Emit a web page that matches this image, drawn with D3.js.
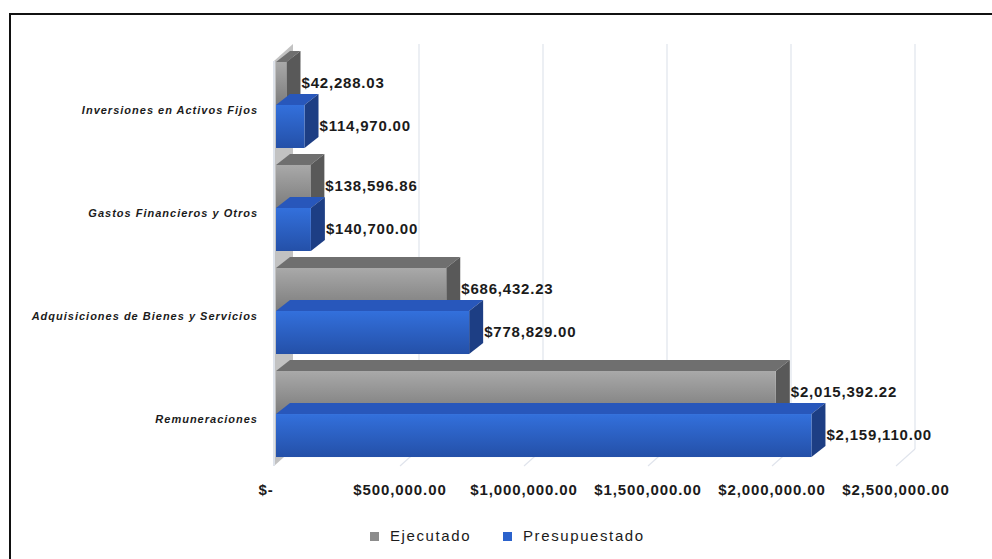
<!DOCTYPE html>
<html>
<head>
<meta charset="utf-8">
<script src="https://cdn.jsdelivr.net/npm/d3@7"></script>
<style>
  body { margin: 0; background: #fff; }
  svg { display: block; }
</style>
</head>
<body>
<svg id="mainSvg" width="992" height="559"></svg>
<script>
// Data
let categories = [
    "Inversiones en Activos Fijos",
    "Gastos Financieros y Otros",
    "Adquisiciones de Bienes y Servicios",
    "Remuneraciones",
];
let seriesNames = ["Ejecutado", "Presupuestado"];
let ejecutado = [42288.03, 138596.86, 686432.23, 2015392.22];
let presupuestado = [114970.0, 140700.0, 778829.0, 2159110.0];
let xTicks = [0, 500000, 1000000, 1500000, 2000000, 2500000];

let seriesValues = { Ejecutado: ejecutado, Presupuestado: presupuestado };

let svg = d3.select("#mainSvg");
let fontFam = "'Liberation Sans', Arial, sans-serif";

// depth offsets for the 3d look
let wallDx = 19, wallDy = 17;
let barDx = 14, barDy = 11;

let x = d3.scaleLinear().domain([0, 2500000]).range([276, 896]);
let y = d3.scaleBand().domain(categories).range([56, 463])
    .paddingInner(0.165).paddingOuter(0.058);
let ySub = d3.scaleBand().domain(seriesNames).range([0, y.bandwidth()]);
let floorY = 466;

let money = (d) => (d === 0 ? "$-" : "$" + d3.format(",.2f")(d));

// gradients
let defs = svg.append("defs");
let addGrad = function (id, c1, c2) {
    let g = defs.append("linearGradient").attr("id", id)
        .attr("x1", 0).attr("y1", 0).attr("x2", 0).attr("y2", 1);
    g.append("stop").attr("offset", "0%").attr("stop-color", c1);
    g.append("stop").attr("offset", "100%").attr("stop-color", c2);
};
addGrad("gFront", "#a9a9a9", "#7c7c7c");
addGrad("bFront", "#3370dc", "#2450a8");

let colors = {
    Ejecutado: { front: "url(#gFront)", top: "#6f6f6f", side: "#595959", key: "#8c8c8c" },
    Presupuestado: { front: "url(#bFront)", top: "#2857bb", side: "#1d3e84", key: "#2b62cc" },
};

// outer frame
svg.append("rect")
    .attr("x", 10).attr("y", 14).attr("width", 1000).attr("height", 600)
    .attr("fill", "none").attr("stroke", "#111").attr("stroke-width", 2);

// back gridlines and floor lines
let grid = svg.append("g");
grid.selectAll("line.back")
    .data(xTicks.slice(1))
    .join("line")
    .attr("x1", (d) => x(d) + wallDx).attr("x2", (d) => x(d) + wallDx)
    .attr("y1", 44).attr("y2", floorY - wallDy)
    .attr("stroke", "#e0e4ec").attr("stroke-width", 1.2);
grid.selectAll("line.floor")
    .data(xTicks.slice(1))
    .join("line")
    .attr("x1", (d) => x(d)).attr("y1", floorY)
    .attr("x2", (d) => x(d) + wallDx).attr("y2", floorY - wallDy)
    .attr("stroke", "#e0e4ec").attr("stroke-width", 1.2);

// left wall
let x0 = x(0);
grid.append("polygon")
    .attr("points", [
        [x0 - 2, floorY], [x0 + wallDx - 2, floorY - wallDy],
        [x0 + wallDx - 2, 44], [x0 - 2, 44 + wallDy],
    ].join(" "))
    .attr("fill", "#c2c2c2");
grid.append("line")
    .attr("x1", x0 - 2).attr("x2", x0 - 2)
    .attr("y1", 44 + wallDy).attr("y2", floorY)
    .attr("stroke", "#dde2ea").attr("stroke-width", 2);

// bars
let bars = svg.append("g");
categories.forEach(function (cat, i) {
    seriesNames.forEach(function (s) {
        let v = seriesValues[s][i];
        let c = colors[s];
        let by = y(cat) + ySub(s);
        let h = ySub.bandwidth();
        let x1 = x(v);
        let g = bars.append("g");
        g.append("polygon")
            .attr("points", [
                [x0, by], [x1, by], [x1 + barDx, by - barDy], [x0 + barDx, by - barDy],
            ].join(" "))
            .attr("fill", c.top);
        g.append("polygon")
            .attr("points", [
                [x1, by], [x1 + barDx, by - barDy], [x1 + barDx, by + h - barDy], [x1, by + h],
            ].join(" "))
            .attr("fill", c.side);
        g.append("rect")
            .attr("x", x0).attr("y", by)
            .attr("width", x1 - x0).attr("height", h)
            .attr("fill", c.front);
        g.append("text")
            .attr("x", x1 + barDx + 1)
            .attr("y", by + h / 2 + 1)
            .attr("dominant-baseline", "middle")
            .attr("font-family", fontFam)
            .attr("font-weight", "bold")
            .attr("font-size", "15px")
            .attr("letter-spacing", "0.8px")
            .attr("fill", "#1b1b1b")
            .text(money(v));
    });
});

// category labels
svg.append("g")
    .selectAll("text")
    .data(categories)
    .join("text")
    .attr("x", 258)
    .attr("y", (d) => y(d) + y.bandwidth() / 2 + 6)
    .attr("text-anchor", "end")
    .attr("dominant-baseline", "middle")
    .attr("font-family", fontFam)
    .attr("font-weight", "bold")
    .attr("font-style", "italic")
    .attr("font-size", "11px")
    .attr("letter-spacing", "1px")
    .attr("fill", "#1b1b1b")
    .text((d) => d);

// x tick labels
svg.append("g")
    .selectAll("text")
    .data(xTicks)
    .join("text")
    .attr("x", (d) => (d === 0 ? x(d) - 10 : x(d)))
    .attr("y", 491)
    .attr("text-anchor", "middle")
    .attr("dominant-baseline", "middle")
    .attr("font-family", fontFam)
    .attr("font-weight", "bold")
    .attr("font-size", "15px")
    .attr("letter-spacing", "0.9px")
    .attr("fill", "#1b1b1b")
    .text(money);

// legend
let legendX = [370, 503];
let legend = svg.append("g")
    .selectAll("g")
    .data(seriesNames)
    .join("g")
    .attr("transform", (d, i) => `translate(${legendX[i]},532)`);
legend.append("rect")
    .attr("width", 9).attr("height", 9)
    .attr("fill", (d) => colors[d].key);
legend.append("text")
    .attr("x", 20).attr("y", 5)
    .attr("dominant-baseline", "middle")
    .attr("font-family", fontFam)
    .attr("font-size", "15px")
    .attr("letter-spacing", "1.6px")
    .attr("fill", "#1b1b1b")
    .text((d) => d);
</script>
</body>
</html>
